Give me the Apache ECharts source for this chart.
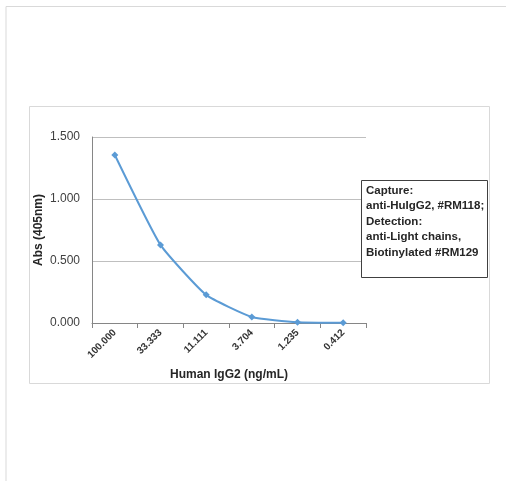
<!DOCTYPE html>
<html><head><meta charset="utf-8">
<script src="https://cdn.jsdelivr.net/npm/echarts@6/dist/echarts.min.js"></script>
<style>html,body{margin:0;padding:0;background:#fff}#c{width:506px;height:481px}</style>
</head><body><div id="c"></div>
<script>
const categories = ['100.000','33.333','11.111','3.704','1.235','0.412'];
const absValues = [1.355, 0.630, 0.227, 0.049, 0.006, 0.002];
const legendLines = ['Capture:','anti-HuIgG2, #RM118;','Detection:','anti-Light chains,','Biotinylated #RM129'];
const FONT = 'Liberation Sans';
const chart = echarts.init(document.getElementById('c'));
chart.setOption({
  animation: false,
  backgroundColor: '#ffffff',
  grid: { left: 92, top: 137, right: 140, bottom: 158, containLabel: false },
  xAxis: {
    type: 'category', data: categories, boundaryGap: true,
    name: 'Human IgG2 (ng/mL)', nameLocation: 'middle', nameGap: 46,
    nameTextStyle: { fontFamily: FONT, fontWeight: 'bold', fontSize: 12, color: '#262626' },
    axisLine: { show: true, lineStyle: { color: '#868686', width: 1 } },
    axisTick: { show: true, interval: 0, length: 5, lineStyle: { color: '#868686' } },
    axisLabel: { rotate: 45, interval: 0, fontFamily: FONT, fontSize: 10, fontWeight: 'bold', color: '#333333', margin: 8 },
    splitLine: { show: false }
  },
  yAxis: {
    type: 'value', min: 0, max: 1.5, interval: 0.5,
    name: 'Abs (405nm)', nameLocation: 'middle', nameGap: 47, nameMoveOverlap: false,
    nameTextStyle: { fontFamily: FONT, fontWeight: 'bold', fontSize: 12, color: '#262626' },
    axisLine: { show: true, lineStyle: { color: '#868686', width: 1 } },
    axisTick: { show: false },
    axisLabel: { formatter: v => v.toFixed(3), fontFamily: FONT, fontSize: 12, color: '#404040', margin: 12 },
    splitLine: { show: true, lineStyle: { color: '#bfbfbf', width: 1 } }
  },
  series: [{
    type: 'line', data: absValues, smooth: 0.15,
    symbol: 'diamond', symbolSize: 7,
    lineStyle: { color: '#5b9bd5', width: 2 },
    itemStyle: { color: '#5b9bd5' }
  }],
  graphic: [
    { type: 'polyline', shape: { points: [[6, 481], [6, 6.5], [506, 6.5]] }, style: { stroke: '#d9d9d9', fill: null, lineWidth: 1 }, silent: true },
    { type: 'rect', shape: { x: 29.5, y: 106.5, width: 460, height: 277 }, style: { stroke: '#d9d9d9', fill: null, lineWidth: 1 }, silent: true, z: -1 },
    { type: 'rect', shape: { x: 361.5, y: 180.5, width: 126, height: 97 }, style: { stroke: '#404040', fill: '#ffffff', lineWidth: 1 }, silent: true, z: 10 },
    { type: 'text', left: 366, top: 183, z: 11, silent: true,
      style: { text: legendLines.join('\n'), fontFamily: FONT, fontWeight: 'bold', fontSize: 11.5, lineHeight: 15.5, fill: '#262626' } }
  ]
});
</script></body></html>
